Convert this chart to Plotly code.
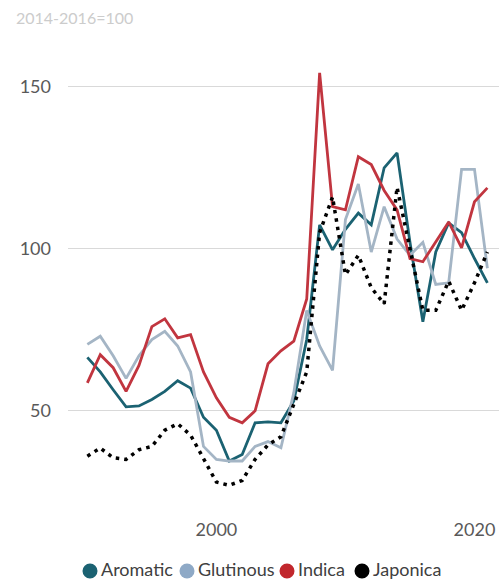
import plotly.graph_objects as go

years = list(range(1990, 2022))

aromatic = [66.5, 62, 56.5, 51.2, 51.5, 53.5, 56, 59.3, 57, 48, 44, 34.5, 36.5,
            46.3, 46.6, 46.3, 53, 72, 107.4, 99.7, 106, 111, 107.4, 125, 129.6,
            102, 77.5, 99, 108, 105, 97, 89.5]
glutinous = [70.5, 73, 67, 60, 67, 72, 74.5, 70, 62, 39, 35, 34.5, 34.5,
             39, 40.5, 38.6, 55.6, 81, 70, 62.5, 109, 120, 99, 113, 103,
             98, 102, 89, 89.5, 124.5, 124.5, 94]
indica = [58.6, 67.3, 63.3, 56, 64, 76, 78.4, 72.5, 73.5, 62, 54, 48, 46.3,
          50, 64.5, 68.5, 71.5, 84.5, 154.3, 113, 112, 128.4, 126, 118, 112,
          97, 96, 102, 108.3, 100.3, 114.5, 118.8]
japonica = [36, 38.5, 35.5, 35, 38, 39, 44, 46, 42.5, 35, 28, 27, 28.5,
            35, 39.5, 42, 52, 62, 105, 116, 92, 98, 88, 83, 119,
            100, 81, 81, 90, 81, 89.5, 99]

names = ["Aromatic", "Glutinous", "Indica", "Japonica"]
series = [aromatic, glutinous, indica, japonica]
colors = ["#1b6272", "#a4b5c5", "#c1353f", "#000000"]
marker_colors = ["#1b6272", "#8ea9c6", "#c1272d", "#000000"]
dashes = ["solid", "solid", "solid", "3.5px,5px"]

W, H = 499, 584
L, R, T, B = 68, 0, 22, 76
PW, PH = W - L - R, H - T - B

def px(x):  # figure pixel -> paper x
    return (x - L) / PW

def py(y):  # figure pixel -> paper y
    return (H - B - y) / PH

fig = go.Figure()
for name, vals, col, dash in zip(names, series, colors, dashes):
    fig.add_trace(go.Scatter(x=years, y=vals, mode="lines", name=name,
                             line=dict(color=col, width=3.5 if name == "Japonica" else 2.8,
                                       dash=dash),
                             showlegend=False, hoverinfo="skip"))

font = "Lato, Open Sans, sans-serif"

# legend built from layout shapes + text
leg_centers = [90, 187, 287, 362]
leg_y = 571
shapes = []
annotations = [dict(text="2014-2016=100", xref="paper", yref="paper",
                    x=px(14), y=py(17), xanchor="left", yanchor="middle",
                    showarrow=False, font=dict(family=font, size=16, color="#cccccc"))]
for name, col, cx in zip(names, marker_colors, leg_centers):
    shapes.append(dict(type="circle", xref="paper", yref="paper",
                       xsizemode="pixel", ysizemode="pixel",
                       xanchor=px(cx), yanchor=py(leg_y),
                       x0=-7.5, x1=7.5, y0=-7.5, y1=7.5,
                       fillcolor=col, line=dict(width=0)))
    annotations.append(dict(text=name, xref="paper", yref="paper",
                            x=px(cx + 9), y=py(leg_y - 2), xanchor="left", yanchor="middle",
                            showarrow=False,
                            font=dict(family=font, size=18, color="#404040")))

fig.update_layout(
    width=W, height=H,
    margin=dict(l=L, r=R, t=T, b=B),
    plot_bgcolor="white", paper_bgcolor="white",
    font=dict(family=font, size=18, color="#595959"),
    showlegend=False,
    xaxis=dict(range=[1988.5, 2021.9], tickmode="array", tickvals=[2000, 2020],
               showgrid=False, zeroline=False, showline=False, ticks="",
               ticklabelstandoff=9, tickfont=dict(size=18, color="#595959")),
    yaxis=dict(range=[20, 170], tickmode="array", tickvals=[50, 100, 150],
               showgrid=True, gridcolor="#d9d9d9", gridwidth=1, zeroline=False,
               showline=False, ticks="", ticklabelstandoff=16,
               tickfont=dict(size=18, color="#595959")),
    shapes=shapes,
    annotations=annotations,
)

fig.write_html("out.html",
               config={"displayModeBar": False, "staticPlot": True},
               post_script="document.body.style.margin='0';"
                           "document.body.style.overflow='hidden';")
